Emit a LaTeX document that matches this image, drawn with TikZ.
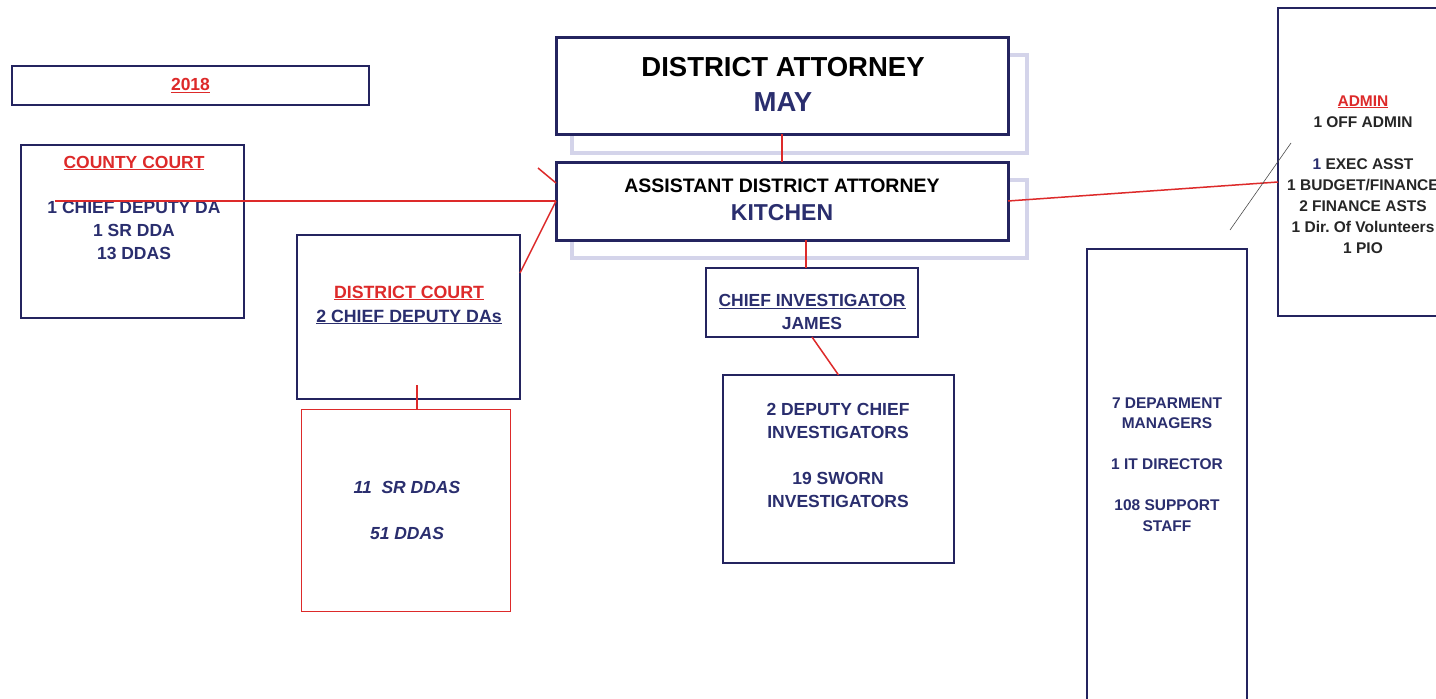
\documentclass[tikz,border=0pt]{standalone}
\usepackage{fontspec}
\setmainfont{Liberation Sans}
\usetikzlibrary{positioning, calc}
\definecolor{boxnavy}{HTML}{24245F}
\definecolor{textnavy}{HTML}{2A2E6E}
\definecolor{linkred}{HTML}{DD2A2A}
\definecolor{shadowlilac}{HTML}{D4D4EA}
\newcommand{\redhead}[1]{\textcolor{linkred}{\underline{#1}}}

\begin{document}
\begin{tikzpicture}[x=1pt, y=-1pt,
  box/.style={draw=boxnavy, line width=2pt, fill=white, anchor=north west, inner sep=0pt, outer sep=0pt},
  thinbox/.style={box, line width=1.2pt},
  shadowbox/.style={box, draw=shadowlilac, line width=4pt},
  txt/.style={align=center, text=textnavy, inner sep=0pt},
  conn/.style={draw=linkred, line width=1.5pt}]
  \path[fill=white, use as bounding box] (0,0) rectangle (1436,699);

  % Year
  \node[box, minimum width=357pt, minimum height=39pt, font=\fontsize{17.5}{23}\selectfont\bfseries] (year) at (12,66) {\redhead{2018}};

  % County court
  \node[box, minimum width=223pt, minimum height=173pt] (county) at (21,145) {};
  \node[txt, font=\fontsize{17.5}{23}\selectfont\bfseries] (countytxt) at (134,207.5)
    {\redhead{COUNTY COURT}\\[22pt]1 CHIEF DEPUTY DA\\1 SR DDA\\13 DDAS};

  % District court
  \node[box, minimum width=223pt, minimum height=164pt] (dc) at (297,235) {};
  \node[txt, font=\fontsize{17.75}{24}\selectfont\bfseries] (dctxt) at (409,305)
    {\redhead{DISTRICT COURT}\\\underline{2 CHIEF DEPUTY DAs}};
  \node[box, draw=linkred, line width=1pt, minimum width=209pt, minimum height=202pt] (ddas) at (301,409) {};
  \node[txt, font=\fontsize{17.5}{23}\selectfont\bfseries\itshape] (ddastxt) at (407,510)
    {11\ \ SR DDAS\\[23pt]51 DDAS};

  % District attorney
  \node[shadowbox, minimum width=455pt, minimum height=98pt] (dashadow) at (572,55) {};
  \node[box, line width=3pt, minimum width=452pt, minimum height=97pt] (da) at (556,37) {};
  \node[txt, text=black, font=\fontsize{27.5}{35}\selectfont\bfseries] (datxt) at (783,84.5)
    {DISTRICT ATTORNEY\\\textcolor{textnavy}{MAY}};

  % Assistant district attorney
  \node[shadowbox, minimum width=455pt, minimum height=78pt] (adashadow) at (572,180) {};
  \node[box, line width=3pt, minimum width=452pt, minimum height=78pt] (ada) at (556,162) {};
  \node[txt, text=black, font=\fontsize{19.5}{28}\selectfont\bfseries] (adatxt) at (782,199.5)
    {ASSISTANT DISTRICT ATTORNEY\\\textcolor{textnavy}{\fontsize{23}{28}\selectfont KITCHEN}};

  % Investigators
  \node[box, minimum width=212pt, minimum height=69pt] (chief) at (706,268) {};
  \node[txt, font=\fontsize{17.5}{23}\selectfont\bfseries] (chieftxt) at (812,312)
    {\underline{CHIEF INVESTIGATOR}\\JAMES};
  \node[box, line width=1.5pt, minimum width=231pt, minimum height=188pt] (inv) at (723,375) {};
  \node[txt, font=\fontsize{17.5}{23}\selectfont\bfseries] (invtxt) at (838,455.5)
    {2 DEPUTY CHIEF\\INVESTIGATORS\\[23pt]19 SWORN\\INVESTIGATORS};

  % Support staff
  \node[thinbox, minimum width=160pt, minimum height=480pt] (support) at (1087,249) {};
  \node[txt, font=\fontsize{15.5}{20.5}\selectfont\bfseries] (supporttxt) at (1167,464.5)
    {7 DEPARMENT\\MANAGERS\\[20.5pt]1 IT DIRECTOR\\[20.5pt]108 SUPPORT\\STAFF};

  % Admin
  \node[thinbox, minimum width=200pt, minimum height=308pt] (admin) at (1278,8) {};
  \node[txt, text=black!85, font=\fontsize{15.5}{21}\selectfont\bfseries] (admintxt) at (1363,174.5)
    {\redhead{ADMIN}\\1 OFF ADMIN\\[21pt]\textcolor{textnavy}{1} EXEC ASST\\1 BUDGET/FINANCE\\2 FINANCE ASTS\\1 Dir.\ Of Volunteers\\1 PIO};

  % Connections
  \draw[conn] (da.south) -- (ada.north);
  \draw[conn] ([xshift=24pt]ada.south) -- ([xshift=-6pt]chief.north);
  \draw[conn] (chief.south) -- (inv.north);
  \draw[conn] (ada.west) -- ++(-501,0) coordinate (countyend);
  \draw[conn] (ada.west) -- ([yshift=44pt]dc.east);
  \draw[conn] ([yshift=18pt]ada.west) -- ++(-18,-15);
  \draw[conn, line width=1.2pt] ([xshift=8.5pt, yshift=14pt]dc.south) -- ([xshift=11.5pt]ddas.north);
  \draw[conn] (ada.east) -- ([yshift=-20pt]admin.west);
  \draw[black!70, line width=0.6pt] (1230,230) -- (1291,143);
\end{tikzpicture}
\end{document}
